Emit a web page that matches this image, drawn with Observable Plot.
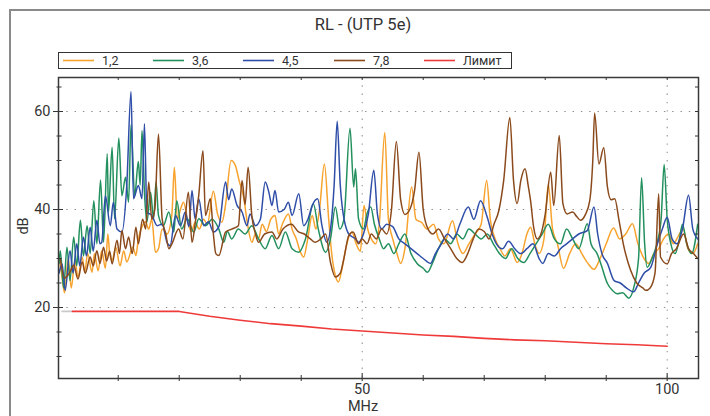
<!DOCTYPE html>
<html><head><meta charset="utf-8">
<script src="https://cdn.jsdelivr.net/npm/d3@7"></script>
<script src="https://cdn.jsdelivr.net/npm/@observablehq/plot@0.6"></script>
<style>
html,body{margin:0;padding:0;background:#fff;}
#chart svg{display:block;}
</style>
</head><body><div id="chart"></div>
<script>
// ---- data (frequency MHz, return loss dB) ----
const pair12 = [[0.3,30],[0.7,27],[1.2,23],[1.8,30],[2.3,24],[2.9,29.6],[3.4,26.2],[4.1,30.3],[4.5,27.2],[5.0,31],[5.7,27.2],[6.1,31],[6.7,27.5],[7.3,31.6],[7.9,28],[8.3,35],[8.6,31],[9.0,29.6],[9.6,32.3],[10.3,28.5],[10.9,31.6],[11.4,29.3],[12.4,32.3],[12.9,30.6],[13.3,34],[13.9,36.5],[14.5,37.5],[15.0,36],[15.5,38],[16.1,31.3],[16.6,32],[17.2,36],[18.0,35],[18.8,39],[19.2,48.6],[19.7,38],[20.2,40],[20.7,41.5],[21.5,37],[22.0,35.5],[22.6,37.4],[23.3,36],[24.0,38],[24.6,37],[25.6,43.7],[26.3,39],[27.0,37.4],[27.6,41],[28.5,50],[29.2,49],[29.8,46],[30.6,42.2],[31.2,37],[31.9,33.3],[32.5,35],[33.0,34],[33.6,37],[34.3,35.5],[35.0,38],[35.7,38.8],[36.3,35],[36.9,37],[37.9,39.1],[38.5,36],[39.2,34],[39.8,31.5],[40.4,30.3],[41.0,33.5],[41.8,38.8],[42.4,36],[43.0,40],[43.8,49.3],[44.5,38.1],[45.0,31],[45.6,26.5],[46.1,25.2],[46.7,28],[47.3,32],[48.3,35.4],[49.0,33],[49.7,31.5],[50.3,40.8],[50.9,36],[51.5,34],[52.2,33],[52.8,37],[53.7,55.7],[54.3,38],[55.0,34],[55.7,31],[56.3,29],[57.0,32],[58.1,44.6],[58.8,38],[59.8,37.3],[60.6,36],[61.7,37],[62.5,34],[63.4,33],[64.8,37.7],[65.7,33],[66.5,31],[67.5,33],[68.5,35],[69.5,37],[70.4,45.9],[71.0,38],[71.8,34],[72.6,32],[73.4,30.5],[74.3,32],[75.4,29.2],[76.2,31],[77.0,35],[77.6,36.4],[78.3,33],[79.0,31],[79.8,34],[80.5,45.1],[81.2,36],[82.0,33],[83.0,28],[84.0,31],[85.0,33],[86.0,31],[87.0,29],[88.0,27.8],[89.0,30],[90.0,33],[91.2,36.2],[92.2,34],[93.2,35],[94.3,37.1],[95.2,33],[96.2,30],[97.0,29],[97.8,31],[98.6,32],[99.4,34],[100.2,35],[101.0,33],[101.8,34.5],[102.6,36],[103.4,32],[104.2,31],[105,33]];

const pair36 = [[0.3,29],[0.5,31.6],[1.05,24],[1.6,32.3],[2.1,25.5],[2.7,34.4],[3.2,28.5],[3.8,37.8],[4.3,30.5],[4.9,36.7],[5.4,31],[6.0,41.8],[6.5,33],[7.1,46],[7.6,33.3],[8.2,51.4],[8.4,39.5],[9.0,52.7],[9.4,38.1],[10.1,54.6],[10.6,42.8],[11.2,46.6],[11.7,41.5],[12.1,57.3],[12.7,42.8],[13.3,49.8],[13.6,45],[13.9,56.1],[14.3,43.5],[14.7,37.4],[15.3,43.5],[15.8,38.1],[16.2,45.6],[16.6,38.8],[17.4,36.7],[18.3,39.5],[19.1,35.4],[19.6,41.8],[20.4,36],[21.3,38.1],[22.4,35.4],[23.2,38.1],[24.3,36.7],[25.4,38],[26.5,36],[27.3,33.3],[27.9,35.5],[28.6,34],[29.7,36],[30.8,35],[31.9,36.7],[33.0,34],[34.1,32],[35.2,34.7],[36.3,32],[37.4,35.4],[38.5,32],[39.6,31.3],[40.7,34],[42.0,41.1],[42.8,36],[44.0,31.3],[44.8,34],[45.6,40.5],[46.3,36],[47.0,38],[48.0,56.6],[48.6,44.6],[48.9,48.3],[49.4,38.1],[50.2,36],[50.8,39.2],[51.4,40.5],[52.0,37],[52.8,34],[53.5,32],[54.3,33],[55.2,31],[56.0,33],[57.0,35],[58.0,31],[59.0,29],[60.0,28],[60.7,27.2],[61.5,29],[62.5,32],[63.5,34],[64.5,33],[65.5,35],[66.5,34],[67.5,36],[68.5,35],[69.5,34],[70.5,35],[71.5,33],[72.5,31],[73.5,30],[74.5,32],[75.5,30],[76.5,29.2],[77.5,31],[78.5,33],[79.5,35],[80.5,37],[81.5,34],[82.5,33],[83.5,36],[84.5,34],[85.5,32],[86.9,37.1],[87.5,33],[88.5,31],[89.1,29],[90.2,24.9],[91.0,23.5],[91.8,22.8],[92.7,23],[93.7,21.9],[94.5,24],[95.3,30],[95.8,46.5],[96.3,33],[96.7,28.2],[97.5,30],[98.3,33],[99.0,38],[99.5,49.2],[100.0,38],[100.6,33],[101.3,31],[102.0,34],[102.5,37],[103.2,33],[104.0,31],[105,37]];

const pair45 = [[0.3,27],[0.8,28.9],[1.3,23.5],[2.1,31.6],[2.6,27],[3.2,33],[3.7,28.5],[4.3,34.4],[4.8,30.5],[5.4,36.4],[5.9,31.5],[6.5,37.8],[7.0,33],[7.3,33.3],[7.9,42.8],[8.7,36.7],[9.2,41.5],[9.8,36],[10.6,35.4],[11.4,44.9],[12.1,64.1],[12.5,42.2],[13.3,44.9],[13.9,42.2],[14.3,57.5],[14.7,39.5],[15.5,38.8],[16.4,36.7],[17.2,37],[18.0,33.3],[18.5,32.6],[19.4,38.8],[20.2,36.7],[21.0,39.5],[21.6,36.5],[22.1,43.9],[22.6,38.1],[23.2,42.2],[24.0,36.7],[24.8,37.5],[25.6,35.4],[26.5,36.5],[27.6,45.6],[28.1,42],[28.6,44.2],[29.5,40.8],[30.3,39.5],[31.1,36.7],[31.6,39.1],[32.5,36.7],[33.3,38],[34.1,45.6],[34.7,43.5],[35.2,40.8],[35.7,43.9],[36.3,39.5],[37.2,40],[37.9,41.5],[38.5,38.8],[39.6,43.2],[40.4,36.7],[41.1,38],[41.8,40.8],[42.7,42.2],[43.4,36.7],[44.2,33.3],[44.9,37],[45.4,45],[45.9,58],[46.4,45],[46.7,40.8],[47.8,35],[48.9,34],[49.4,33.3],[50.2,35],[51.0,39],[51.9,48],[52.5,39],[53.2,36],[54.0,37],[55.0,36.5],[56.0,34],[57.0,33],[58.0,32],[59.0,31],[60.0,30],[61.2,29],[62.0,31],[63.0,33],[64.0,35],[65.0,34],[66.0,37],[67.4,40.5],[68.3,38],[69.4,41.8],[70.5,38.4],[71.3,35],[72.0,33],[73.0,32],[74.0,33.5],[75.0,32],[76.0,31],[77.0,32],[78.0,33],[79.0,30],[79.6,29],[80.5,31],[81.5,30.5],[82.5,32],[83.5,33],[84.5,34],[85.5,35],[86.9,35.7],[88.0,40.5],[88.6,35],[89.3,31],[90.2,29],[91.3,25.5],[92.3,25],[93.3,24],[94.5,23.2],[95.3,25],[96.2,27],[97.3,28.2],[98.4,33],[99.2,36],[100.0,38.4],[100.8,34],[101.6,33],[102.5,36],[103.5,42.9],[104.2,36],[105,34]];

const pair78 = [[0.5,30],[1.2,26],[2.0,27],[2.7,28.6],[3.4,25.8],[4.1,29.3],[4.6,27],[5.4,30.3],[5.9,28.5],[6.5,31.6],[7.0,29],[7.6,32.3],[8.1,29.5],[8.6,31.5],[9.0,28.9],[9.8,33.7],[10.2,31],[10.6,35.7],[11.2,32],[11.7,34.4],[12.3,31],[12.9,36.4],[13.3,33],[14.0,38],[14.5,36],[15.0,45.6],[15.5,38],[16.0,40],[16.6,55.4],[17.2,38.1],[17.8,35],[18.3,32],[18.8,33],[19.9,36],[20.6,34],[21.5,43.5],[22.1,33.3],[22.6,37],[23.2,42.9],[23.9,52],[24.3,38.8],[25.1,42.2],[25.6,35],[26.0,31],[26.5,30.6],[27.6,35.4],[28.6,36],[29.7,36.7],[30.3,45.9],[30.8,41],[31.3,48.6],[31.9,38.8],[32.5,35],[33.0,33.3],[34.0,35],[35.2,35.4],[36.0,34],[37.0,36],[38.4,37],[39.5,35.5],[40.5,35],[41.5,34],[42.3,33.3],[43.2,34],[44.0,35],[44.8,29.2],[45.6,26.2],[46.4,27],[47.0,30],[47.8,34.7],[48.5,35.4],[49.4,33],[50.0,34],[50.8,33],[51.5,35],[52.3,34],[53.2,36],[54.0,35],[54.8,40],[55.6,53.9],[56.3,42],[57.0,39],[57.8,40],[58.6,44],[59.3,51.7],[60.0,40],[60.8,36],[61.6,35],[62.5,36],[63.5,34],[64.5,32],[65.5,30],[66.4,29.2],[67.3,31],[68.2,34],[69.1,36],[70.0,35.5],[70.8,34],[71.6,37],[72.4,39.8],[73.2,46],[74.2,58.8],[74.8,46],[75.4,41.2],[76.0,45.9],[76.7,48.3],[77.2,45],[77.6,41.8],[78.1,36.4],[78.7,34],[79.3,35],[80.0,39],[80.9,47.6],[81.4,40.8],[82.3,55.1],[82.9,41.2],[83.6,39.1],[84.5,39.5],[85.2,38.5],[85.8,37.8],[86.6,39],[87.3,41.8],[87.8,50],[88.1,59.7],[88.8,49.3],[89.6,52.6],[90.2,44.6],[90.8,42],[91.4,42.2],[92.1,37.8],[92.8,33],[94.0,27.6],[95.0,25],[96.0,24],[96.5,23.5],[97.2,24],[98.0,27],[98.6,43.2],[98.9,30.3],[100.0,28.9],[100.7,31],[101.5,32],[102.7,35],[103.5,32],[104.3,31],[105,30]];

const limitFreq = [2.5, 20, 25, 30, 35, 40, 45, 50, 55, 60, 65, 70, 75, 80, 85, 90, 95, 100];
const limitDb   = [19.2, 19.2, 18.2, 17.4, 16.7, 16.2, 15.6, 15.2, 14.8, 14.4, 14.1, 13.7, 13.4, 13.2, 12.9, 12.6, 12.4, 12.1];
const limitLeadFreq = [0.8, 2.5];
const limitLeadDb = [19.2, 19.2];

const seriesNames = ["1,2", "3,6", "4,5", "7,8"];
const limitName = "Лимит";
const seriesColors = ["#f7a32e", "#23905e", "#2f4ea8", "#8b4a1c"];
const limitColor = "#ef3a3a";
const titleText = "RL - (UTP 5e)";
const xLabel = "MHz";
const yLabel = "dB";
const xMinorTicks = [10, 20, 30, 40, 60, 70, 80, 90];
const xMajorTicks = [50, 100];
const yMinorTicks = [10, 15, 25, 30, 35, 45, 50, 55, 65];
const yMajorTicks = [20, 40, 60];

// ---- build tables ----
const seriesData = [pair12, pair36, pair45, pair78];
const rows = [];
seriesNames.forEach((n, i) => seriesData[i].forEach(([f, v]) => rows.push({pair: n, f, v})));
const limitRows = limitFreq.map((f, i) => ({f, v: limitDb[i]}));
const leadRows = limitLeadFreq.map((f, i) => ({f, v: limitLeadDb[i]}));

const W = 710, H = 416, mL = 58, mR = 12, mT = 77, mB = 38;
const fw = W - mL - mR, fh = H - mT - mB;
const font = "Roboto, 'DejaVu Sans', sans-serif";

const chart = Plot.plot({
  width: W, height: H,
  marginLeft: mL, marginRight: mR, marginTop: mT, marginBottom: mB,
  style: {background: "#fff", fontFamily: font, color: "#333", overflow: "visible"},
  x: {domain: [0.21, 105.13], label: null},
  y: {domain: [5.51, 66.94], label: null},
  color: {domain: seriesNames, range: seriesColors},
  marks: [
    Plot.ruleY(yMajorTicks, {stroke: "#8c8c8c", strokeDasharray: "1.4,6.9", strokeWidth: 1}),
    Plot.ruleX(xMajorTicks, {stroke: "#9a9a9a", strokeDasharray: "1.4,6.9", strokeWidth: 1.2}),
    Plot.line(leadRows, {x: "f", y: "v", stroke: "#c9c9c9", strokeWidth: 1.6}),
    Plot.line(limitRows, {x: "f", y: "v", stroke: limitColor, strokeWidth: 1.6}),
    Plot.line(rows, {x: "f", y: "v", z: "pair", stroke: "pair", strokeWidth: 1.5, strokeLinejoin: "round", curve: "monotone-x"}),
    // bottom ticks
    Plot.tickX(xMinorTicks, {x: d => d, stroke: "#333", insetTop: fh - 3, insetBottom: -3}),
    Plot.tickX(xMajorTicks, {x: d => d, stroke: "#555", strokeWidth: 1.3, insetTop: fh - 5, insetBottom: -3}),
    // top ticks
    Plot.tickX([...xMinorTicks, ...xMajorTicks], {x: d => d, stroke: "#333", insetTop: 0, insetBottom: fh - 3}),
    // left ticks
    Plot.tickY(yMinorTicks, {y: d => d, stroke: "#333", insetLeft: -1.5, insetRight: fw - 3.5}),
    Plot.tickY(yMajorTicks, {y: d => d, stroke: "#333", insetLeft: -5, insetRight: fw - 5}),
    // right ticks
    Plot.tickY([...yMinorTicks, ...yMajorTicks], {y: d => d, stroke: "#333", insetLeft: fw - 3, insetRight: 0}),
    Plot.frame({stroke: "#3a3a3a", strokeWidth: 1.5}),
    Plot.axisX({ticks: xMajorTicks, tickSize: 0, tickPadding: 5, fontSize: 14.5, fill: "#333"}),
    Plot.axisY({ticks: yMajorTicks, tickSize: 0, tickPadding: 8, fontSize: 14.5, fill: "#333"})
  ]
});

document.getElementById("chart").appendChild(chart);

// ---- decorations: outer border, title, legend, axis labels ----
const svg = d3.select(chart);
svg.insert("rect", ":first-child")
  .attr("x", 10).attr("y", 10).attr("width", 720).attr("height", 430)
  .attr("fill", "none").attr("stroke", "#8a8a8a").attr("stroke-width", 2);

svg.append("text")
  .attr("x", 363).attr("y", 30)
  .attr("text-anchor", "middle")
  .attr("font-family", font).attr("font-size", 16.5).attr("fill", "#333")
  .text(titleText);

const legend = svg.append("g");
legend.append("rect")
  .attr("x", 58.5).attr("y", 52.5).attr("width", 453).attr("height", 16)
  .attr("fill", "#fff").attr("stroke", "#333").attr("stroke-width", 1);
const legNames = [...seriesNames, limitName];
const legColors = [...seriesColors, limitColor];
const legX = [63, 153, 243, 334, 424];
legNames.forEach((n, i) => {
  legend.append("line")
    .attr("x1", legX[i]).attr("x2", legX[i] + 31)
    .attr("y1", 60.5).attr("y2", 60.5)
    .attr("stroke", legColors[i]).attr("stroke-width", 1.6);
  legend.append("text")
    .attr("x", legX[i] + 39).attr("y", 65)
    .attr("text-anchor", "start")
    .attr("font-family", font).attr("font-size", 12.5).attr("fill", "#333")
    .text(n);
});

svg.append("text")
  .attr("x", 363).attr("y", 411)
  .attr("text-anchor", "middle")
  .attr("font-family", font).attr("font-size", 14.5).attr("fill", "#333")
  .text(xLabel);

svg.append("text")
  .attr("transform", "translate(28,226) rotate(-90)")
  .attr("text-anchor", "middle")
  .attr("font-family", font).attr("font-size", 14.5).attr("fill", "#333")
  .text(yLabel);
</script>
</body></html>
